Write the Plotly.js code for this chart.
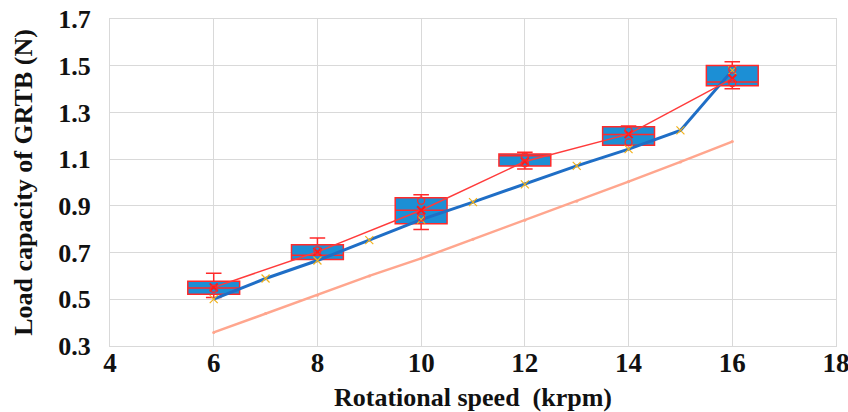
<!DOCTYPE html>
<html>
<head>
<meta charset="utf-8">
<script src="https://cdn.plot.ly/plotly-3.0.1.min.js"></script>
<style>
html,body{margin:0;padding:0;background:#fff;}
#chart{width:848px;height:412px;}
</style>
</head>
<body>
<div id="chart"></div>
<script>
// Box statistics at each rotational speed (krpm)
const boxSpeed = [6, 8, 10, 12, 14, 16];
const boxLower = [0.508, 0.670, 0.799, 1.058, 1.160, 1.401];
const boxQ1 = [0.522, 0.670, 0.823, 1.071, 1.160, 1.414];
const boxMedian = [0.548, 0.688, 0.881, 1.114, 1.206, 1.430];
const boxQ3 = [0.577, 0.734, 0.935, 1.122, 1.239, 1.501];
const boxUpper = [0.611, 0.762, 0.948, 1.130, 1.242, 1.517];
const boxMean = [0.551, 0.703, 0.881, 1.090, 1.207, 1.445];

// individual measured points shown as circles
const pointSpeed = [6, 8, 10, 10, 12, 12, 14, 14, 16, 16];
const pointLoad = [0.545, 0.709, 0.922, 0.850, 1.112, 1.082, 1.222, 1.172, 1.483, 1.426];

// simulated / theoretical curves
const lineSpeed = [6, 7, 8, 9, 10, 11, 12, 13, 14, 15, 16];
const blueLoad = [0.501, 0.589, 0.666, 0.753, 0.841, 0.916, 0.992, 1.071, 1.143, 1.223, 1.480];
const orangeLoad = [0.358, 0.439, 0.517, 0.600, 0.675, 0.757, 0.838, 0.920, 1.004, 1.088, 1.175];

const xTicks = [4, 6, 8, 10, 12, 14, 16, 18];
const yTicks = [0.3, 0.5, 0.7, 0.9, 1.1, 1.3, 1.5, 1.7];

const serif = "Liberation Serif, Times New Roman, serif";

const traces = [
  {
    type: 'scatter', mode: 'lines+markers', x: lineSpeed, y: orangeLoad,
    line: {color: '#ffa68e', width: 2.5},
    marker: {color: '#ffa68e', size: 3},
    hoverinfo: 'skip'
  },
  {
    type: 'box', x: boxSpeed, q1: boxQ1, median: boxMedian, q3: boxQ3,
    lowerfence: boxLower, upperfence: boxUpper,
    width: 1, whiskerwidth: 0.3,
    fillcolor: '#1c8fd5',
    line: {color: '#ff2a2a', width: 1.5},
    boxpoints: false
  },
  {
    type: 'scatter', mode: 'lines+markers', x: lineSpeed, y: blueLoad,
    line: {color: '#1f6ec6', width: 3},
    marker: {symbol: 'x-thin-open', color: '#f2b21b', size: 8, line: {width: 1.2, color: '#f2b21b'}}
  },
  {
    type: 'scatter', mode: 'lines+markers', x: boxSpeed, y: boxMean,
    line: {color: '#ff3b3b', width: 1.5},
    marker: {symbol: 'x-thin-open', color: '#ff1a1a', size: 8, line: {width: 2, color: '#ff1a1a'}}
  },
  {
    type: 'scatter', mode: 'markers', x: pointSpeed, y: pointLoad,
    marker: {symbol: 'circle-open', color: '#ff2a2a', size: 7, line: {width: 1.3, color: '#ff2a2a'}}
  }
];

const layout = {
  width: 848, height: 412,
  margin: {l: 110, r: 12, t: 19, b: 66},
  paper_bgcolor: '#ffffff', plot_bgcolor: '#ffffff',
  showlegend: false,
  font: {family: serif, color: '#111111'},
  xaxis: {
    range: [4, 18], tickvals: xTicks, ticktext: xTicks.map(String),
    showgrid: true, gridcolor: '#d9d9d9', gridwidth: 1,
    showline: true, linecolor: '#d9d9d9', linewidth: 1, mirror: true,
    zeroline: false, ticks: '', ticklen: 0, ticklabelstandoff: 0,
    ticklabeloverflow: 'allow',
    tickfont: {family: serif, size: 27, weight: 'bold', color: '#111'},
    title: {text: 'Rotational speed  (krpm)', font: {family: serif, size: 26, weight: 'bold', color: '#111'}, standoff: 0}
  },
  yaxis: {
    range: [0.3, 1.7], tickvals: yTicks, ticktext: yTicks.map(v => v.toFixed(1)),
    showgrid: true, gridcolor: '#d9d9d9', gridwidth: 1,
    showline: true, linecolor: '#d9d9d9', linewidth: 1, mirror: true,
    zeroline: false, ticks: '', ticklen: 0, ticklabelstandoff: 13,
    tickfont: {family: serif, size: 26, weight: 'bold', color: '#111'},
    title: {text: 'Load capacity of GRTB (N)', font: {family: serif, size: 26, weight: 'bold', color: '#111'}, standoff: 18}
  }
};

Plotly.newPlot('chart', traces, layout, {displayModeBar: false, staticPlot: true}).then(() => {
  // nudge x tick labels up to sit closer to the axis, as in the reference
  document.querySelectorAll('.xaxislayer-above .xtick').forEach(g => {
    g.setAttribute('transform', 'translate(0,-7)');
  });
});
</script>
</body>
</html>
